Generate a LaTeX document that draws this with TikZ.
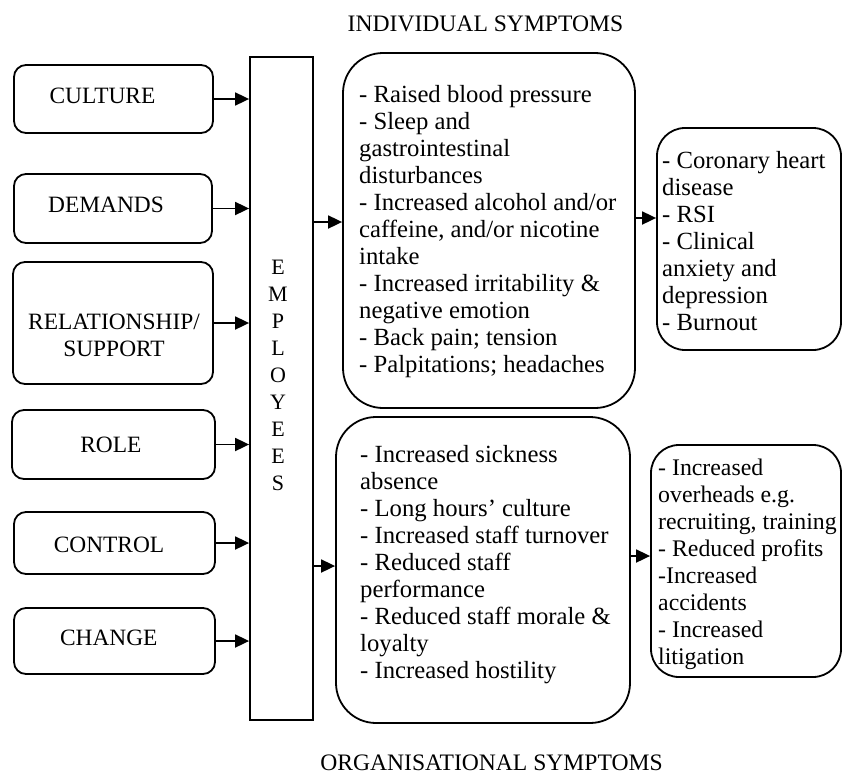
\documentclass[tikz,border=0pt]{standalone}
\usepackage{fontspec}
\setmainfont{Liberation Serif}
\usetikzlibrary{arrows.meta,calc}
\begin{document}
\begin{tikzpicture}[x=1pt,y=-1pt,
  lbox/.style={draw, line width=1.8pt, rounded corners=12pt, inner sep=0pt},
  lbl/.style={font=\fontsize{23.4}{27}\selectfont, align=center, inner sep=0pt},
  bigbox/.style={draw, line width=1.8pt, rounded corners=40pt, inner sep=0pt},
  rbox/.style={draw, line width=1.8pt, rounded corners=28pt, inner sep=0pt},
  body/.style={font=\fontsize{24.7}{27}\selectfont, align=left, inner sep=0pt, anchor=west},
  ttl/.style={font=\fontsize{23.6}{26}\selectfont, inner sep=0pt},
  arr/.style={-{Triangle[length=14pt,width=13pt]}, line width=1.8pt}]
\useasboundingbox (0,0) rectangle (842,776);

\node[ttl] (t1) at (485.5,23.5) {INDIVIDUAL SYMPTOMS};
\node[ttl] (t2) at (491.5,763) {ORGANISATIONAL SYMPTOMS};

% left boxes
\node[lbox, minimum width=199pt, minimum height=68pt] (culture) at (113.5,99) {};
\node[lbox, minimum width=198pt, minimum height=69pt] (demands) at (113,208.5) {};
\node[lbox, minimum width=200pt, minimum height=122pt] (rel) at (113,323) {};
\node[lbox, minimum width=203pt, minimum height=69pt] (role) at (113.5,444.5) {};
\node[lbox, minimum width=201pt, minimum height=62pt] (control) at (114.5,543) {};
\node[lbox, minimum width=201pt, minimum height=66pt] (change) at (114.5,641) {};

\node[lbl] (culturet) at (102.5,95.5) {CULTURE};
\node[lbl] (demandst) at (106,204.5) {DEMANDS};
\node[lbl] (relt) at (114,335.5) {RELATIONSHIP/\\SUPPORT};
\node[lbl] (rolet) at (110.8,445) {ROLE};
\node[lbl] (controlt) at (109,545) {CONTROL};
\node[lbl] (changet) at (108.8,637.7) {CHANGE};

% employees
\node[draw, line width=1.8pt, minimum width=63pt, minimum height=663pt, inner sep=0pt] (emp) at (281.5,388.5) {};
\node[font=\fontsize{22}{27}\selectfont, align=center, inner sep=0pt] (empt) at (278,375.5) {E\\M\\P\\L\\O\\Y\\E\\E\\S};

% middle boxes
\node[bigbox, minimum width=292pt, minimum height=355pt] (top) at (489,230.5) {};
\node[bigbox, minimum width=294pt, minimum height=306pt] (bot) at (483,570) {};
\node[body] (topt) at (359,232) {- Raised blood pressure\\- Sleep and\\gastrointestinal\\disturbances\\- Increased alcohol and/or\\caffeine, and/or nicotine\\intake\\- Increased irritability \&\\negative emotion\\- Back pain; tension\\- Palpitations; headaches};
\node[body] (bott) at (360,565) {- Increased sickness\\absence\\- Long hours’ culture\\- Increased staff turnover\\- Reduced staff\\performance\\- Reduced staff morale \&\\loyalty\\- Increased hostility};

% right boxes
\node[rbox, minimum width=184pt, minimum height=222pt] (rt) at (749,239) {};
\node[rbox, minimum width=190pt, minimum height=232pt] (rb) at (746,561) {};
\node[body] (rtt) at (662,241) {- Coronary heart\\disease\\- RSI\\- Clinical\\anxiety and\\depression\\- Burnout};
\node[body, font=\fontsize{23.8}{27}\selectfont] (rbt) at (658,564.5) {- Increased\\overheads e.g.\\recruiting, training\\- Reduced profits\\-Increased\\accidents\\- Increased\\litigation};

% arrows
\foreach \b in {culture,demands,rel,role,control,change}
  \draw[arr] (\b.east) -- (\b.east -| emp.west);
\coordinate (a1) at ([yshift=8.5pt]top.west);
\coordinate (a2) at ([yshift=4pt]bot.west);
\coordinate (a3) at ([yshift=12.5pt]top.east);
\coordinate (a4) at ([yshift=14pt]bot.east);
\draw[arr] (a1 -| emp.east) -- (a1);
\draw[arr] (a2 -| emp.east) -- (a2);
\draw[arr] (a3) -- (a3 -| rt.west);
\draw[arr] (a4) -- (a4 -| rb.west);
\end{tikzpicture}
\end{document}
